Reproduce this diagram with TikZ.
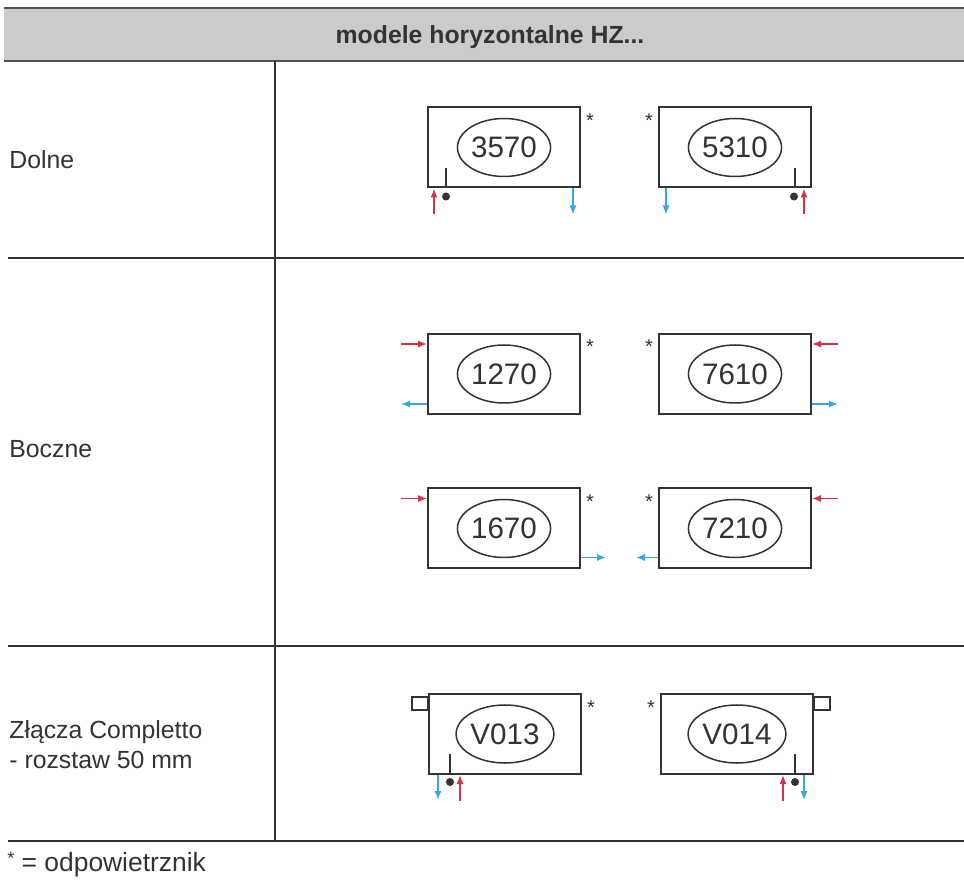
\documentclass[tikz,border=0pt]{standalone}
\usepackage{fontspec}
\setmainfont{Liberation Sans}
\usetikzlibrary{shapes.geometric,calc,arrows.meta}
\definecolor{hotred}{HTML}{D8314B}
\definecolor{coldblue}{HTML}{35A8E0}
\definecolor{inkgray}{HTML}{333333}
\definecolor{headgray}{HTML}{CBCBCB}
\tikzset{
  radbox/.style={draw=inkgray,line width=1pt,minimum width=76pt,minimum height=40pt,inner sep=0pt},
  numoval/.style={ellipse,draw=inkgray,line width=0.75pt,minimum width=43pt,minimum height=29pt,
    inner sep=0pt,font=\fontsize{14.8}{16}\selectfont,text=inkgray},
  vent/.style={anchor=base,inner sep=0pt,font=\fontsize{10}{12}\selectfont,text=inkgray},
  hotpipe/.style={draw=hotred,line width=0.8pt,-{Latex[length=4.5pt,width=3.6pt]}},
  coldpipe/.style={draw=coldblue,line width=0.8pt,-{Latex[length=4.5pt,width=3.6pt]}},
  stub/.style={draw=inkgray,line width=0.9pt},
  rowlabel/.style={anchor=base west,inner sep=0pt,font=\fontsize{12.4}{15}\selectfont,text=inkgray},
}
\begin{document}
\begin{tikzpicture}[x=0.5pt,y=-0.5pt]
    \useasboundingbox (0,0) rectangle (964,881);

    % table frame
    \fill[headgray] (4,8) rectangle (964,61);
    \draw[inkgray!85,line width=1.2pt] (4,8) -- (964,8) (4,61) -- (964,61);
    \node[anchor=base,inner sep=0pt,font=\bfseries\fontsize{12.4}{14}\selectfont,text=inkgray] (head) at (490,44) {modele horyzontalne HZ...};
    \draw[inkgray,line width=1pt] (275,61) -- (275,841);
    \foreach \y in {258,646,841}
    \draw[inkgray,line width=1pt] (8,\y) -- (964,\y);

    \node[rowlabel] (dolne) at (9,169) {Dolne};
    \node[rowlabel] (boczne) at (9,458) {Boczne};
    \node[rowlabel] (zlacza) at (9,738) {Złącza Completto};
    \node[rowlabel] (rozstaw) at (9,768) {- rozstaw 50 mm};
    \node[rowlabel,font=\fontsize{13.2}{15}\selectfont] (legenda) at (7,871) {\raisebox{3.5pt}{\fontsize{9}{12}\selectfont*} = odpowietrznik};

    % Dolne
    \node[radbox] (r3570) at (504,147.5) {};
    \node[numoval] (o3570) at (r3570) {3570};
    \node[vent] (s3570) at ($(r3570.north east)+(9,21)$) {*};
    \draw[stub] ($(r3570.south west)+(19,0)$) -- ($(r3570.south west)+(19,-20)$);
    \fill[inkgray] ($(r3570.south west)+(19,8)$) circle[radius=2pt];
    \draw[hotpipe] ($(r3570.south west)+(7,26)$) -- ($(r3570.south west)+(7,0)$);
    \draw[coldpipe] ($(r3570.south east)+(-8,0)$) -- ($(r3570.south east)+(-8,26)$);

    \node[radbox] (r5310) at (735,147.5) {};
    \node[numoval] (o5310) at (r5310) {5310};
    \node[vent] (s5310) at ($(r5310.north west)+(-9,21)$) {*};
    \draw[stub] ($(r5310.south east)+(-17,0)$) -- ($(r5310.south east)+(-17,-20)$);
    \fill[inkgray] ($(r5310.south east)+(-18,8)$) circle[radius=2pt];
    \draw[hotpipe] ($(r5310.south east)+(-8,26)$) -- ($(r5310.south east)+(-8,0)$);
    \draw[coldpipe] ($(r5310.south west)+(8,0)$) -- ($(r5310.south west)+(8,26)$);

    % Boczne
    \node[radbox] (r1270) at (504,374) {};
    \node[numoval] (o1270) at (r1270) {1270};
    \node[vent] (s1270) at ($(r1270.north east)+(9,21)$) {*};
    \draw[hotpipe] ($(r1270.north west)+(-26,11)$) -- ($(r1270.north west)+(0,11)$);
    \draw[coldpipe] ($(r1270.south west)+(0,-11)$) -- ($(r1270.south west)+(-26,-11)$);

    \node[radbox] (r7610) at (735,374) {};
    \node[numoval] (o7610) at (r7610) {7610};
    \node[vent] (s7610) at ($(r7610.north west)+(-9,21)$) {*};
    \draw[hotpipe] ($(r7610.north east)+(26,11)$) -- ($(r7610.north east)+(0,11)$);
    \draw[coldpipe] ($(r7610.south east)+(0,-11)$) -- ($(r7610.south east)+(26,-11)$);

    \node[radbox] (r1670) at (504,528.5) {};
    \node[numoval] (o1670) at (r1670) {1670};
    \node[vent] (s1670) at ($(r1670.north east)+(9,21)$) {*};
    \draw[hotpipe] ($(r1670.north west)+(-26,11)$) -- ($(r1670.north west)+(0,11)$);
    \draw[coldpipe] ($(r1670.south east)+(0,-12)$) -- ($(r1670.south east)+(25,-12)$);

    \node[radbox] (r7210) at (735,528.5) {};
    \node[numoval] (o7210) at (r7210) {7210};
    \node[vent] (s7210) at ($(r7210.north west)+(-9,21)$) {*};
    \draw[hotpipe] ($(r7210.north east)+(26,11)$) -- ($(r7210.north east)+(0,11)$);
    \draw[coldpipe] ($(r7210.south west)+(0,-12)$) -- ($(r7210.south west)+(-22,-12)$);

    % Completto
    \node[radbox] (rV013) at (505,734) {};
    \node[numoval] (oV013) at (rV013) {V013};
    \node[vent] (sV013) at ($(rV013.north east)+(9,21)$) {*};
    \draw[stub] ($(rV013.north west)+(-16,4)$) rectangle ($(rV013.north west)+(0,17)$);
    \draw[stub] ($(rV013.south west)+(22,0)$) -- ($(rV013.south west)+(22,-21)$);
    \fill[inkgray] ($(rV013.south west)+(22,7)$) circle[radius=2pt];
    \draw[coldpipe] ($(rV013.south west)+(10,0)$) -- ($(rV013.south west)+(10,25)$);
    \draw[hotpipe] ($(rV013.south west)+(32,26)$) -- ($(rV013.south west)+(32,0)$);

    \node[radbox] (rV014) at (737,734) {};
    \node[numoval] (oV014) at (rV014) {V014};
    \node[vent] (sV014) at ($(rV014.north west)+(-9,21)$) {*};
    \draw[stub] ($(rV014.north east)+(0,4)$) rectangle ($(rV014.north east)+(16,17)$);
    \draw[stub] ($(rV014.south east)+(-19,0)$) -- ($(rV014.south east)+(-19,-21)$);
    \fill[inkgray] ($(rV014.south east)+(-19,7)$) circle[radius=2pt];
    \draw[hotpipe] ($(rV014.south east)+(-31,26)$) -- ($(rV014.south east)+(-31,0)$);
    \draw[coldpipe] ($(rV014.south east)+(-10,0)$) -- ($(rV014.south east)+(-10,25)$);

\end{tikzpicture}
\end{document}
